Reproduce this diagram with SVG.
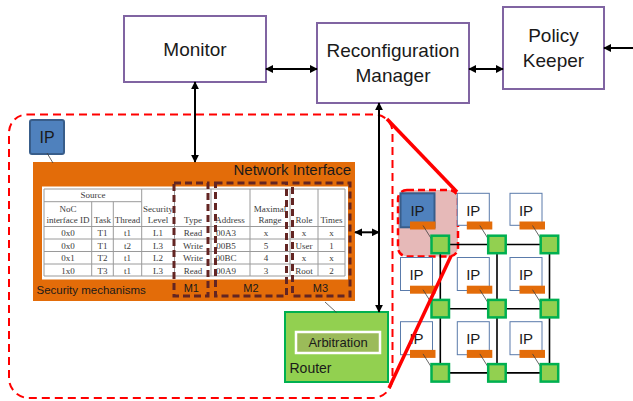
<svg xmlns="http://www.w3.org/2000/svg" width="633" height="401" viewBox="0 0 633 401">
<defs>
<style>
.box{fill:#fff;stroke:#8064a2;stroke-width:2}
.lbl{font-family:"Liberation Sans",Arial,sans-serif;fill:#1a1a1a}
.tb{font-family:"Liberation Serif","Times New Roman",serif;font-size:9px;fill:#3a3a3a;text-anchor:middle}
.tl{stroke:#9a9a9a;stroke-width:1;fill:none}
.mbox{fill:none;stroke:#632523;stroke-width:3;stroke-dasharray:7,4}
.arr{stroke:#000;stroke-width:2;fill:none;marker-end:url(#ah);marker-start:url(#ah)}
.ipw{fill:#fff;stroke:#5a7bab;stroke-width:1}
.tag{fill:#e36c09}
.rt{fill:#92d050;stroke:#00b050;stroke-width:2.5}
.lnk{stroke:#000;stroke-width:1.6}
.thin{stroke:#404040;stroke-width:0.8}
.gip{font-family:"Liberation Sans",Arial,sans-serif;font-size:15px;fill:#1a1a1a;text-anchor:middle}
</style>
<marker id="ah" viewBox="0 0 10 10" refX="9" refY="5" markerWidth="8" markerHeight="8" markerUnits="userSpaceOnUse" orient="auto-start-reverse">
<path d="M0,0 L10,5 L0,10 z" fill="#000"/>
</marker>
</defs>
<rect width="633" height="401" fill="#fff"/>

<!-- big red dashed region -->
<path id="region" d="M27,114.5 H374.5 A18 18 0 0 1 392.5 132.5 V378 A20 20 0 0 1 372.5 398 H29 A20 20 0 0 1 9 378 V132.5 A18 18 0 0 1 27 114.5 Z" fill="none" stroke="#ff0000" stroke-width="2" stroke-dasharray="8,5"/>

<g id="monitor">
<rect class="box" x="124" y="16" width="142" height="66"/>
<text class="lbl" x="195" y="56" font-size="19" text-anchor="middle">Monitor</text>
</g>
<g id="reconfiguration-manager">
<rect class="box" x="317" y="23" width="152" height="80"/>
<text class="lbl" x="393" y="57" font-size="19" text-anchor="middle">Reconfiguration</text>
<text class="lbl" x="393" y="82" font-size="19" text-anchor="middle">Manager</text>
</g>
<g id="policy-keeper">
<rect class="box" x="503" y="7" width="101" height="82"/>
<text class="lbl" x="553.5" y="42" font-size="19" text-anchor="middle">Policy</text>
<text class="lbl" x="553.5" y="67" font-size="19" text-anchor="middle">Keeper</text>
</g>

<g id="ip-core">
<rect x="30" y="120" width="34" height="34" rx="2" fill="#4f81bd" stroke="#385d8a" stroke-width="2"/>
<text class="lbl" x="47" y="143" font-size="16" text-anchor="middle">IP</text>
</g>

<g id="network-interface">
<rect x="33" y="162" width="322" height="139" fill="#e36c09"/>
<text class="lbl" x="351" y="175" font-size="15" text-anchor="end">Network Interface</text>
<rect x="42" y="186.5" width="306" height="93" fill="#fff"/>
<g id="table-lines">
<path class="tl" d="M44,189 H345 M44,201.7 H141.7 M44,226.5 H345 M44,239 H345 M44,251.5 H345 M44,264 H345 M44,276 H345"/>
<path class="tl" d="M44,189 V276 M91.7,201.7 V276 M113.3,201.7 V276 M141.7,189 V276 M174.5,189 V276 M211,189 V276 M250,189 V276 M290,189 V276 M318,189 V276 M345,189 V276"/>
</g>
<g id="table-text">
<text class="tb" x="93" y="198">Source</text>
<text class="tb" x="68" y="211.5">NoC</text>
<text class="tb" x="68" y="223">interface ID</text>
<text class="tb" x="102.5" y="223">Task</text>
<text class="tb" x="127.5" y="223">Thread</text>
<text class="tb" x="158" y="211.5">Security</text>
<text class="tb" x="158" y="223">Level</text>
<text class="tb" x="193" y="223">Type</text>
<text class="tb" x="230" y="223">Address</text>
<text class="tb" x="270" y="211.5">Maximal</text>
<text class="tb" x="270" y="223">Range</text>
<text class="tb" x="304" y="223">Role</text>
<text class="tb" x="331.5" y="223">Times</text>

<text class="tb" x="68" y="236">0x0</text><text class="tb" x="102.5" y="236">T1</text><text class="tb" x="127.5" y="236">t1</text><text class="tb" x="158" y="236">L1</text><text class="tb" x="193" y="236">Read</text><text class="tb" x="226" y="236">00A3</text><text class="tb" x="266" y="236">x</text><text class="tb" x="304" y="236">x</text><text class="tb" x="331.5" y="236">x</text>
<text class="tb" x="68" y="248.5">0x0</text><text class="tb" x="102.5" y="248.5">T1</text><text class="tb" x="127.5" y="248.5">t2</text><text class="tb" x="158" y="248.5">L3</text><text class="tb" x="193" y="248.5">Write</text><text class="tb" x="226" y="248.5">00B5</text><text class="tb" x="266" y="248.5">5</text><text class="tb" x="304" y="248.5">User</text><text class="tb" x="331.5" y="248.5">1</text>
<text class="tb" x="68" y="261">0x1</text><text class="tb" x="102.5" y="261">T2</text><text class="tb" x="127.5" y="261">t1</text><text class="tb" x="158" y="261">L2</text><text class="tb" x="193" y="261">Write</text><text class="tb" x="226" y="261">00BC</text><text class="tb" x="266" y="261">4</text><text class="tb" x="304" y="261">x</text><text class="tb" x="331.5" y="261">x</text>
<text class="tb" x="68" y="273.5">1x0</text><text class="tb" x="102.5" y="273.5">T3</text><text class="tb" x="127.5" y="273.5">t1</text><text class="tb" x="158" y="273.5">L3</text><text class="tb" x="193" y="273.5">Read</text><text class="tb" x="226" y="273.5">00A9</text><text class="tb" x="266" y="273.5">3</text><text class="tb" x="304" y="273.5">Root</text><text class="tb" x="331.5" y="273.5">2</text>
</g>
<text class="lbl" x="36.5" y="294" font-size="11.5">Security mechanisms</text>
<g id="m1"><rect class="mbox" x="174" y="183" width="34" height="113"/><text class="lbl" x="191.3" y="291.5" font-size="11" text-anchor="middle">M1</text></g>
<g id="m2"><rect class="mbox" x="215.5" y="183" width="71" height="113"/><text class="lbl" x="251" y="291.5" font-size="11" text-anchor="middle">M2</text></g>
<g id="m3"><rect class="mbox" x="292.5" y="183" width="57.5" height="113"/><text class="lbl" x="320.5" y="291.5" font-size="11" text-anchor="middle">M3</text></g>
</g>

<g id="router">
<rect x="285" y="312" width="103" height="70" fill="#92d050" stroke="#00b050" stroke-width="2"/>
<rect x="296" y="332" width="84" height="21" fill="#9bbb59" stroke="#fff" stroke-width="2.5"/>
<text class="lbl" x="338" y="346.5" font-size="13" text-anchor="middle">Arbitration</text>
<text class="lbl" x="289.5" y="373" font-size="14">Router</text>
</g>

<g id="connectors">
<line class="arr" x1="266" y1="69" x2="317" y2="69"/>
<line class="arr" x1="469" y1="69" x2="503" y2="69"/>
<line class="arr" x1="604" y1="48" x2="640" y2="48"/>
<line class="arr" x1="195" y1="82" x2="195" y2="162"/>
<line class="arr" x1="379" y1="103" x2="379" y2="312"/>
<line class="arr" x1="355" y1="232.3" x2="379" y2="232.3"/>
<line class="thin" x1="47" y1="153" x2="53" y2="163"/>
<line class="thin" x1="325" y1="302" x2="336.5" y2="312.5"/>
</g>

<g id="noc-grid">
<rect id="highlight" x="398" y="190" width="60" height="66.5" rx="9" fill="#e6b9b8" stroke="#ff0000" stroke-width="2.5" stroke-dasharray="7,4"/>
<g id="grid-links">
<path class="lnk" d="M440.3,244.5 H549.5 M440.3,308.7 H549.5 M440.3,372.9 H549.5 M440.3,244.5 V372.9 M497,244.5 V372.9 M549.5,244.5 V372.9"/>
</g>
<g id="ip-0-0"><rect x="400.5" y="193.3" width="34" height="34" fill="#4f81bd" stroke="#385d8a" stroke-width="2"/><text class="gip" x="417.5" y="215.5">IP</text><rect class="tag" x="410" y="221.5" width="25.5" height="8"/><line class="thin" x1="423" y1="225.5" x2="434" y2="243"/></g>
<g id="ip-0-1"><rect class="ipw" x="457.3" y="193.3" width="32" height="32"/><text class="gip" x="473.3" y="215.5">IP</text><rect class="tag" x="466.8" y="221.5" width="25.5" height="8"/><line class="thin" x1="479.8" y1="225.5" x2="490.8" y2="243"/></g>
<g id="ip-0-2"><rect class="ipw" x="510" y="193.3" width="32" height="32"/><text class="gip" x="526" y="215.5">IP</text><rect class="tag" x="519.5" y="221.5" width="25.5" height="8"/><line class="thin" x1="532.5" y1="225.5" x2="543.5" y2="243"/></g>
<g id="ip-1-0"><rect class="ipw" x="400.5" y="257.5" width="32" height="33"/><text class="gip" x="416.5" y="279.7">IP</text><rect class="tag" x="410" y="285.7" width="25.5" height="8"/><line class="thin" x1="423" y1="289.7" x2="434" y2="307.2"/></g>
<g id="ip-1-1"><rect class="ipw" x="457.3" y="257.5" width="32" height="33"/><text class="gip" x="473.3" y="279.7">IP</text><rect class="tag" x="466.8" y="285.7" width="25.5" height="8"/><line class="thin" x1="479.8" y1="289.7" x2="490.8" y2="307.2"/></g>
<g id="ip-1-2"><rect class="ipw" x="510" y="257.5" width="32" height="33"/><text class="gip" x="526" y="279.7">IP</text><rect class="tag" x="519.5" y="285.7" width="25.5" height="8"/><line class="thin" x1="532.5" y1="289.7" x2="543.5" y2="307.2"/></g>
<g id="ip-2-0"><rect class="ipw" x="400.5" y="321.7" width="32" height="33"/><text class="gip" x="416.5" y="343.9">IP</text><rect class="tag" x="410" y="349.9" width="25.5" height="8"/><line class="thin" x1="423" y1="353.9" x2="434" y2="371.4"/></g>
<g id="ip-2-1"><rect class="ipw" x="457.3" y="321.7" width="32" height="33"/><text class="gip" x="473.3" y="343.9">IP</text><rect class="tag" x="466.8" y="349.9" width="25.5" height="8"/><line class="thin" x1="479.8" y1="353.9" x2="490.8" y2="371.4"/></g>
<g id="ip-2-2"><rect class="ipw" x="510" y="321.7" width="32" height="33"/><text class="gip" x="526" y="343.9">IP</text><rect class="tag" x="519.5" y="349.9" width="25.5" height="8"/><line class="thin" x1="532.5" y1="353.9" x2="543.5" y2="371.4"/></g>
<g id="grid-routers">
<rect class="rt" x="431.5" y="235.7" width="17.5" height="17.5"/>
<rect class="rt" x="488.2" y="235.7" width="17.5" height="17.5"/>
<rect class="rt" x="540.7" y="235.7" width="17.5" height="17.5"/>
<rect class="rt" x="431.5" y="299.9" width="17.5" height="17.5"/>
<rect class="rt" x="488.2" y="299.9" width="17.5" height="17.5"/>
<rect class="rt" x="540.7" y="299.9" width="17.5" height="17.5"/>
<rect class="rt" x="431.5" y="364.1" width="17.5" height="17.5"/>
<rect class="rt" x="488.2" y="364.1" width="17.5" height="17.5"/>
<rect class="rt" x="540.7" y="364.1" width="17.5" height="17.5"/>
</g>
</g>

<g id="zoom-lines">
<line x1="387" y1="119" x2="457" y2="192" stroke="#ff0000" stroke-width="3.5"/>
<line x1="451" y1="256" x2="389" y2="388" stroke="#ff0000" stroke-width="3.5"/>
</g>
</svg>
